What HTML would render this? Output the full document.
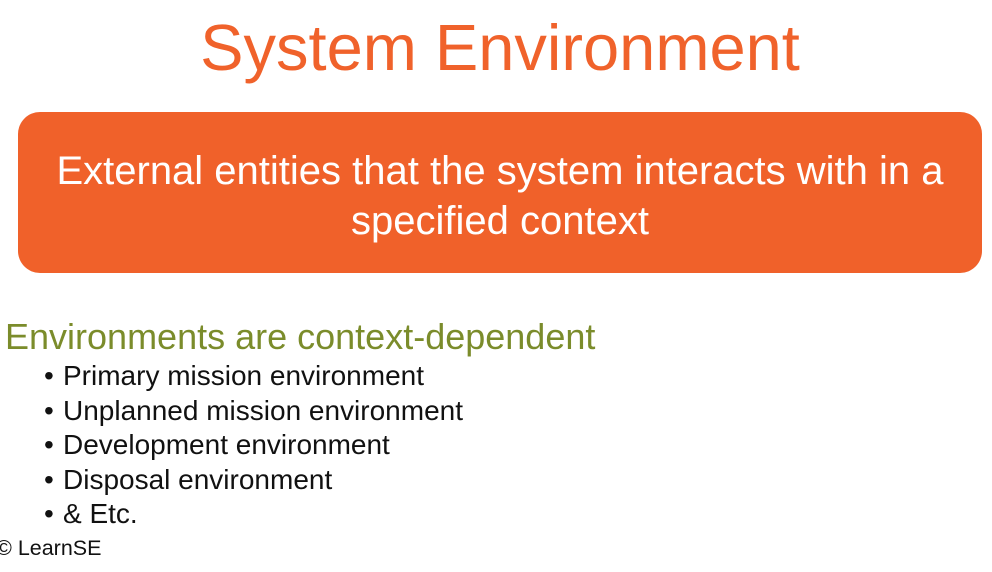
<!DOCTYPE html>
<html><head><meta charset="utf-8">
<style>
html,body{margin:0;padding:0;}
body{width:992px;height:572px;background:#fff;position:relative;overflow:hidden;font-family:"Liberation Sans",sans-serif;}
.a{position:absolute;white-space:nowrap;}
#title{left:0;width:1000px;text-align:center;top:15px;font-size:65px;line-height:65px;color:#f0622b;}
#box{left:18px;top:112px;width:964px;height:161px;border-radius:22px;background:#f0612a;}
#def{left:18px;width:964px;text-align:center;top:146px;font-size:40px;line-height:50px;color:#fff;}
#head{left:5px;top:319px;font-size:36px;line-height:36px;color:#7b8c2b;}
ul{position:absolute;left:44px;top:359px;margin:0;padding:0;list-style:none;font-size:28px;line-height:34.5px;color:#111;}
li{white-space:nowrap;}
li:before{content:"•";display:inline-block;width:19px;}
#foot{left:-4px;top:538px;font-size:21.5px;line-height:21.5px;color:#111;}
</style></head><body>
<div class="a" id="title">System Environment</div>
<div class="a" id="box"></div>
<div class="a" id="def">External entities that the system interacts with in a<br>specified context</div>
<div class="a" id="head">Environments are context-dependent</div>
<ul>
<li>Primary mission environment</li>
<li>Unplanned mission environment</li>
<li>Development environment</li>
<li>Disposal environment</li>
<li>&amp; Etc.</li>
</ul>
<div class="a" id="foot">© LearnSE</div>
</body></html>
